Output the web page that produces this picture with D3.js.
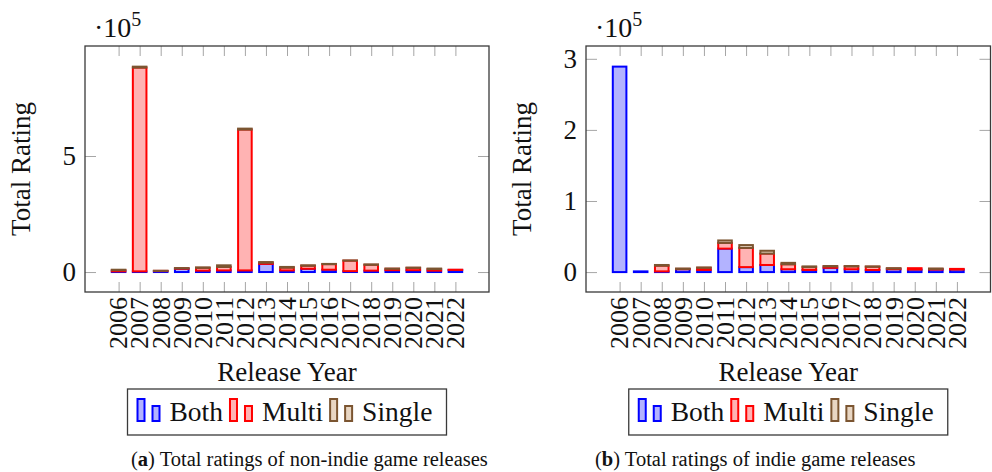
<!DOCTYPE html>
<html>
<head>
<meta charset="utf-8">
<script src="https://cdn.jsdelivr.net/npm/d3@7"></script>
<style>
  body { margin: 0; background: #fff; }
  svg text { font-family: "Liberation Serif", "Times New Roman", serif; fill: #111; }
</style>
</head>
<body>
<svg id="chart" width="992" height="472"></svg>
<script>
// release years (categories)
var years = ["2006","2007","2008","2009","2010","2011","2012","2013","2014","2015","2016","2017","2018","2019","2020","2021","2022"];

// (a) non-indie game releases, total ratings per year
var nonIndieBoth   = [3000, 3000, 4000, 14000, 6000, 7000, 7000, 35000, 7000, 14000, 10000, 4000, 6000, 8000, 8000, 6000, 9000];
var nonIndieMulti  = [5000, 878000, 1000, 2000, 12000, 15000, 607000, 5000, 12000, 13000, 24000, 45000, 25000, 6000, 10000, 7000, 1000];
var nonIndieSingle = [2000, 4000, 500, 1000, 2000, 7000, 4000, 3000, 3000, 2000, 1000, 1000, 2000, 1000, 1000, 2000, 0];

// (b) indie game releases, total ratings per year
var indieBoth   = [289000, 1000, 1000, 4000, 3000, 33000, 7000, 10000, 4000, 3000, 6000, 4000, 3000, 4000, 3500, 3500, 3500];
var indieMulti  = [0, 0, 8000, 500, 3000, 8000, 27000, 16000, 7000, 4000, 2000, 4000, 4500, 1000, 2000, 1000, 1000];
var indieSingle = [0, 0, 1000, 500, 500, 3500, 4000, 4000, 2000, 1000, 500, 500, 500, 500, 0, 500, 0];

var seriesNames = ["Both", "Multi", "Single"];
var strokes = ["#0000ff", "#ff0000", "#7b5531"];
var fills   = ["#b3b3ff", "#ffb3b3", "#e8d6c3"];

var leftTicks  = [0, 500000];
var rightTicks = [0, 100000, 200000, 300000];

var svg = d3.select("#chart");

function drawChart(opts) {
	var x0 = opts.left, x1 = opts.right, y0 = opts.top, y1 = opts.bottom;
	var g = svg.append("g");

	var x = d3.scalePoint()
		.domain(years)
		.range([x0 + 33.6, x1 - 33.6]);
	var y = d3.scaleLinear()
		.domain(opts.yDomain)
		.range([y1, y0]);

	// stack the three series
	var rows = years.map(function(yr, i) {
		return { year: yr, Both: opts.data[0][i], Multi: opts.data[1][i], Single: opts.data[2][i] };
	});
	var stacked = d3.stack().keys(seriesNames)(rows);

	var bw = 13.6;
	stacked.forEach(function(layer, k) {
		g.append("g")
			.selectAll("rect")
			.data(layer.filter(function(d) { return d[1] - d[0] > 0; }))
			.enter()
			.append("rect")
			.attr("x", function(d) { return x(d.data.year) - bw / 2; })
			.attr("y", function(d) { return y(d[1]); })
			.attr("width", bw)
			.attr("height", function(d) { return y(d[0]) - y(d[1]); })
			.attr("fill", fills[k])
			.attr("stroke", strokes[k])
			.attr("stroke-width", 2);
	});

	// tick marks, drawn inward on all four sides
	var tickColor = "#a6a6a6";
	var axTop = d3.axisTop(x).tickSize(-10).tickFormat("");
	var axBot = d3.axisBottom(x).tickSize(-10).tickFormat("");
	var axL = d3.axisLeft(y).tickValues(opts.ticks).tickSize(-11).tickFormat("");
	var axR = d3.axisRight(y).tickValues(opts.ticks).tickSize(-11).tickFormat("");
	[[axTop, "translate(0," + y0 + ")"], [axBot, "translate(0," + y1 + ")"],
	 [axL, "translate(" + x0 + ",0)"], [axR, "translate(" + x1 + ",0)"]].forEach(function(a) {
		var ag = g.append("g").attr("transform", a[1]).call(a[0]);
		ag.select(".domain").remove();
		ag.selectAll("line").attr("stroke", tickColor).attr("stroke-width", 1);
	});

	// frame
	g.append("rect")
		.attr("x", x0).attr("y", y0)
		.attr("width", x1 - x0).attr("height", y1 - y0)
		.attr("fill", "none")
		.attr("stroke", "#3a3a3a")
		.attr("stroke-width", 1.3);

	// y tick labels
	g.selectAll(".ylab")
		.data(opts.ticks)
		.enter()
		.append("text")
		.attr("x", x0 - 9)
		.attr("y", function(d) { return y(d); })
		.attr("dy", "0.34em")
		.attr("text-anchor", "end")
		.attr("font-size", "27px")
		.text(function(d) { return d / 100000; });

	// scale note
	var sc = g.append("text")
		.attr("x", x0 + 9)
		.attr("y", 37)
		.attr("font-size", "28px");
	sc.append("tspan").text("\u00b710");
	sc.append("tspan").attr("dy", -11).attr("font-size", "20px").text("5");

	// year labels, rotated
	g.selectAll(".xlab")
		.data(years)
		.enter()
		.append("text")
		.attr("font-size", "26px")
		.attr("text-anchor", "end")
		.attr("dy", "0.34em")
		.attr("transform", function(d) {
			return "translate(" + x(d) + "," + (y1 + 5) + ")rotate(-90)";
		})
		.text(function(d) { return d; });

	// axis titles
	var cx = (x0 + x1) / 2;
	g.append("text")
		.attr("x", cx).attr("y", 381)
		.attr("text-anchor", "middle")
		.attr("font-size", "27px")
		.text("Release Year");
	g.append("text")
		.attr("text-anchor", "middle")
		.attr("font-size", "27px")
		.attr("transform", "translate(" + (x0 - 55) + "," + ((y0 + y1) / 2) + ")rotate(-90)")
		.text("Total Rating");

	// legend
	var lw = 319, lx = cx - lw / 2, ly = 389, lh = 46;
	g.append("rect")
		.attr("x", lx).attr("y", ly)
		.attr("width", lw).attr("height", lh)
		.attr("fill", "#fff")
		.attr("stroke", "#3a3a3a")
		.attr("stroke-width", 1.3);
	var px = lx + 10;
	var base = ly + 33;
	seriesNames.forEach(function(name, k) {
		g.append("rect")
			.attr("x", px).attr("y", base - 23)
			.attr("width", 7).attr("height", 22)
			.attr("fill", fills[k]).attr("stroke", strokes[k]).attr("stroke-width", 2);
		g.append("rect")
			.attr("x", px + 15).attr("y", base - 16)
			.attr("width", 7).attr("height", 15)
			.attr("fill", fills[k]).attr("stroke", strokes[k]).attr("stroke-width", 2);
		var t = g.append("text")
			.attr("x", px + 32).attr("y", base - 1)
			.attr("font-size", "27.5px")
			.text(name);
		px = px + 32 + t.node().getComputedTextLength() + 7;
	});

	// caption
	var cap = g.append("text")
		.attr("x", opts.capX).attr("y", 466)
		.attr("font-size", "20.5px");
	cap.append("tspan").text("(");
	cap.append("tspan").attr("font-weight", "bold").text(opts.capLetter);
	cap.append("tspan").text(") " + opts.caption);
}

drawChart({
	left: 85, right: 489, top: 46, bottom: 292,
	yDomain: [-86000, 974000],
	ticks: leftTicks,
	data: [nonIndieBoth, nonIndieMulti, nonIndieSingle],
	capX: 131, capLetter: "a",
	caption: "Total ratings of non-indie game releases"
});

drawChart({
	left: 586, right: 990.5, top: 46, bottom: 292,
	yDomain: [-28000, 318000],
	ticks: rightTicks,
	data: [indieBoth, indieMulti, indieSingle],
	capX: 595, capLetter: "b",
	caption: "Total ratings of indie game releases"
});
</script>
</body>
</html>
